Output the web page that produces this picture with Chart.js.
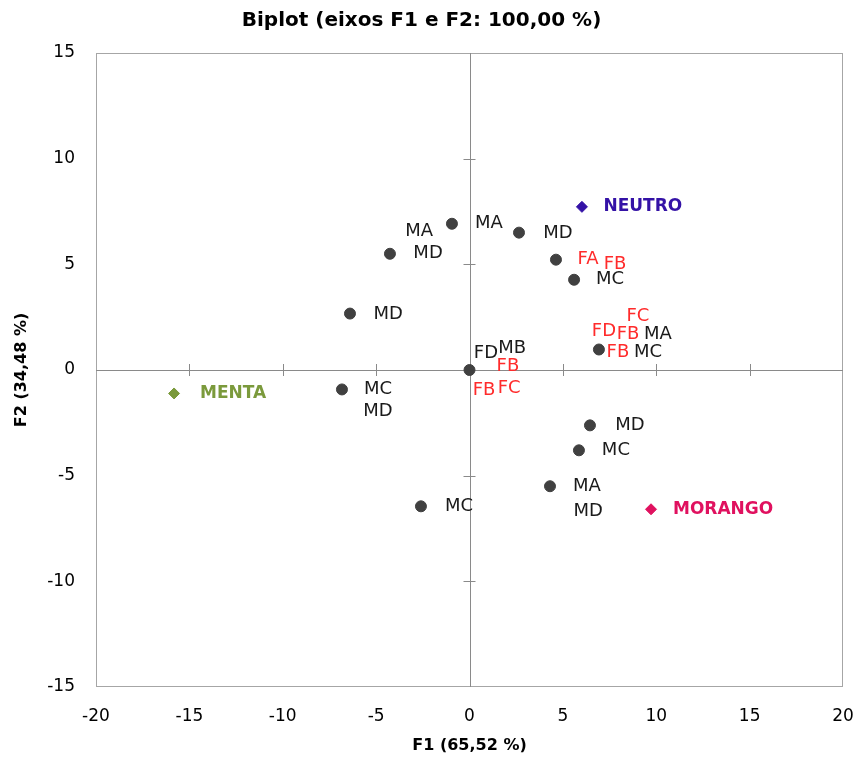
<!DOCTYPE html>
<html>
<head>
<meta charset="utf-8">
<script src="https://cdn.jsdelivr.net/npm/chart.js@4.4.1/dist/chart.umd.min.js"></script>
<style>
  html, body { margin: 0; padding: 0; background: #ffffff; }
  canvas { display: block; }
</style>
</head>
<body>
<canvas id="c" width="857" height="760"></canvas>
<script>
// Observations (F1, F2)
const obsX = [-0.94, 2.65, -4.26, 4.63, 5.60, -6.40, 6.93, 0.00, -6.83, 6.45, 5.86, 4.31, -2.60];
const obsY = [6.92, 6.50, 5.50, 5.22, 4.27, 2.67, 0.97, 0.00, -0.92, -2.62, -3.80, -5.50, -6.45];

// Variables
const varNames = ["NEUTRO", "MENTA", "MORANGO"];
const varX = [6.02, -15.82, 9.72];
const varY = [7.72, -1.11, -6.59];
const varLabelX = [9.28, -12.66, 13.58];
const varLabelY = [7.72, -1.11, -6.59];
const varColors = ["#3412a6", "#7b9a3c", "#e0115f"];

// Observation labels (black)
const obsLabels = ["MA", "MA", "MD", "MD", "MC", "MD", "MA", "MC", "MB", "FD", "MC", "MD", "MD", "MC", "MA", "MD", "MC"];
const obsLabelX = [1.04, -2.70, 4.74, -2.22, 7.52, -4.36, 10.09, 9.56, 2.28, 0.88, -4.90, -4.90, 8.59, 7.84, 6.29, 6.35, -0.56];
const obsLabelY = [6.92, 6.54, 6.45, 5.50, 4.27, 2.62, 1.68, 0.83, 1.02, 0.78, -0.92, -1.96, -2.62, -3.80, -5.50, -6.68, -6.45];

// Observation labels (red)
const redLabels = ["FA", "FB", "FC", "FD", "FB", "FB", "FB", "FB", "FC"];
const redLabelX = [6.35, 7.79, 9.02, 7.20, 8.49, 7.95, 2.06, 0.78, 2.12];
const redLabelY = [5.22, 4.98, 2.53, 1.82, 1.68, 0.83, 0.17, -0.97, -0.87];

// Axis
const xMin = -20, xMax = 20, yMin = -15, yMax = 15, tickStep = 5;
const titleText = "Biplot (eixos F1 e F2: 100,00 %)";
const xTitle = "F1 (65,52 %)";
const yTitle = "F2 (34,48 %)";

const obsData = obsX.map((x, i) => ({ x: x, y: obsY[i] }));
const varDatasets = varNames.map((n, i) => ({
  label: n,
  data: [{ x: varX[i], y: varY[i] }],
  pointStyle: 'rectRot',
  pointRadius: 5.5,
  backgroundColor: varColors[i],
  borderColor: varColors[i],
  borderWidth: 1
}));

const zeroAxes = {
  id: 'zeroAxes',
  beforeDatasetsDraw(chart) {
    const { ctx, chartArea: a, scales: { x, y } } = chart;
    const x0 = x.getPixelForValue(0), y0 = y.getPixelForValue(0);
    ctx.save();
    ctx.strokeStyle = '#a6a6a6';
    ctx.lineWidth = 1;
    ctx.strokeRect(Math.round(a.left) + 0.5, Math.round(a.top) + 0.5,
                   Math.round(a.right - a.left) - 1, Math.round(a.bottom - a.top) - 1);
    ctx.strokeStyle = '#8a8a8a';
    ctx.beginPath();
    ctx.moveTo(Math.round(x0) + 0.5, a.top);
    ctx.lineTo(Math.round(x0) + 0.5, a.bottom);
    ctx.moveTo(a.left, Math.round(y0) + 0.5);
    ctx.lineTo(a.right, Math.round(y0) + 0.5);
    for (let v = xMin + tickStep; v < xMax; v += tickStep) {
      const px = Math.round(x.getPixelForValue(v)) + 0.5;
      ctx.moveTo(px, y0 - 6);
      ctx.lineTo(px, y0 + 6);
    }
    for (let v = yMin + tickStep; v < yMax; v += tickStep) {
      const py = Math.round(y.getPixelForValue(v)) + 0.5;
      ctx.moveTo(x0 - 6, py);
      ctx.lineTo(x0 + 6, py);
    }
    ctx.stroke();
    ctx.restore();
  }
};

const pointLabels = {
  id: 'pointLabels',
  afterDatasetsDraw(chart) {
    const { ctx, scales: { x, y } } = chart;
    ctx.save();
    ctx.textAlign = 'center';
    ctx.textBaseline = 'middle';
    ctx.font = '18px "DejaVu Sans"';
    ctx.fillStyle = '#1a1a1a';
    obsLabels.forEach((t, i) => {
      ctx.fillText(t, x.getPixelForValue(obsLabelX[i]), y.getPixelForValue(obsLabelY[i]));
    });
    ctx.fillStyle = '#ff2b2b';
    redLabels.forEach((t, i) => {
      ctx.fillText(t, x.getPixelForValue(redLabelX[i]), y.getPixelForValue(redLabelY[i]));
    });
    ctx.font = 'bold 17px "DejaVu Sans"';
    varNames.forEach((t, i) => {
      ctx.fillStyle = varColors[i];
      ctx.fillText(t, x.getPixelForValue(varLabelX[i]), y.getPixelForValue(varLabelY[i]));
    });
    ctx.restore();
  }
};

new Chart(document.getElementById('c'), {
  type: 'scatter',
  data: {
    datasets: [{
      label: 'Obs',
      data: obsData,
      pointStyle: 'circle',
      pointRadius: 5.5,
      backgroundColor: '#404040',
      borderColor: '#404040',
      borderWidth: 1
    }].concat(varDatasets)
  },
  options: {
    responsive: false,
    animation: false,
    layout: { padding: { left: 0, right: 14, top: 0, bottom: 0 } },
    plugins: {
      legend: { display: false },
      tooltip: { enabled: false },
      title: {
        display: true,
        text: titleText,
        color: '#000000',
        font: { family: 'DejaVu Sans', size: 20, weight: 'bold' },
        padding: { top: 9, bottom: 20 }
      }
    },
    scales: {
      x: {
        type: 'linear',
        min: xMin, max: xMax,
        ticks: { stepSize: tickStep, color: '#000', padding: 19, font: { family: 'DejaVu Sans', size: 17 } },
        grid: { display: false, drawTicks: false },
        border: { display: false },
        title: { display: true, text: xTitle, color: '#000', font: { family: 'DejaVu Sans', size: 16, weight: 'bold' }, padding: { top: 0, bottom: 5 } },
        afterFit(s) { s.height = 73; s.paddingRight = 0; s.paddingLeft = 0; }
      },
      y: {
        type: 'linear',
        min: yMin, max: yMax,
        ticks: { stepSize: tickStep, color: '#000', padding: 21, font: { family: 'DejaVu Sans', size: 17 } },
        grid: { display: false, drawTicks: false },
        border: { display: false },
        title: { display: true, text: yTitle, color: '#000', font: { family: 'DejaVu Sans', size: 16, weight: 'bold' }, padding: { top: 12, bottom: 0 } },
        afterFit(s) { s.width = 96; s.paddingTop = 0; s.paddingBottom = 0; }
      }
    }
  },
  plugins: [zeroAxes, pointLabels]
});
</script>
</body>
</html>
